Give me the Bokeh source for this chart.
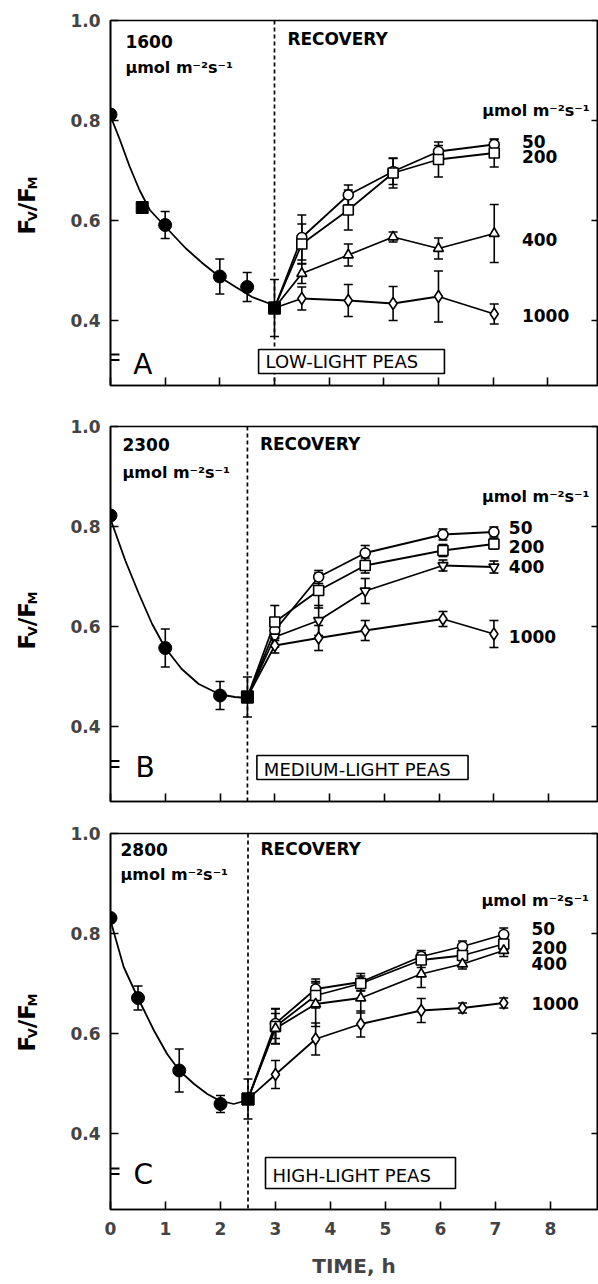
from bokeh.plotting import figure
from bokeh.layouts import column, row
from bokeh.models import (Range1d, LinearAxis, FixedTicker, Span, Label,
                          BoxAnnotation, Whisker, ColumnDataSource, TeeHead,
                          NumeralTickFormatter)
from bokeh.embed import file_html
from bokeh.resources import INLINE

FONT = "DejaVu Sans"

# ---------------- data ----------------
x_ticks = [0, 1, 2, 3, 4, 5, 6, 7, 8]
y_ticks = [0.4, 0.6, 0.8, 1.0]
rec_names = ["50", "200", "400", "1000"]

# Panel A - low-light peas, 1600 umol m-2 s-1
a_stress_t = [0.0, 0.58, 1.0, 2.0, 2.5, 3.0]
a_stress_v = [0.812, 0.626, 0.591, 0.488, 0.467, 0.425]
a_stress_e = [0.0, 0.0, 0.027, 0.035, 0.029, 0.057]
a_stress_m = ["circle", "square", "circle", "circle", "circle", "square"]
a_fit_t = [0.0, 0.17, 0.35, 0.53, 0.72, 1.0, 1.38, 1.69, 2.0, 2.29, 2.59, 3.0]
a_fit_v = [0.809, 0.762, 0.708, 0.661, 0.621, 0.588, 0.544, 0.514, 0.487, 0.467, 0.447, 0.430]
a_end = 3.0
a_rec_t = [3.0, 3.5, 4.35, 5.17, 6.0, 7.02]
a_50 = [0.425, 0.566, 0.651, 0.698, 0.738, 0.752]
a_50e = [0.0, 0.045, 0.02, 0.026, 0.012, 0.01]
a_200 = [0.425, 0.553, 0.621, 0.695, 0.722, 0.735]
a_200e = [0.0, 0.04, 0.04, 0.03, 0.035, 0.028]
a_400 = [0.425, 0.494, 0.531, 0.567, 0.544, 0.574]
a_400e = [0.0, 0.02, 0.022, 0.01, 0.021, 0.058]
a_1000 = [0.425, 0.444, 0.440, 0.434, 0.448, 0.413]
a_1000e = [0.0, 0.023, 0.032, 0.034, 0.051, 0.02]

# Panel B - medium-light peas, 2300 umol m-2 s-1
b_stress_t = [0.0, 1.0, 2.0, 2.5]
b_stress_v = [0.822, 0.557, 0.462, 0.459]
b_stress_e = [0.0, 0.038, 0.028, 0.04]
b_stress_m = ["circle", "circle", "circle", "square"]
b_fit_t = [0.0, 0.27, 0.52, 0.76, 1.0, 1.30, 1.61, 2.0, 2.27, 2.5]
b_fit_v = [0.815, 0.732, 0.665, 0.605, 0.557, 0.515, 0.485, 0.464, 0.459, 0.457]
b_end = 2.5
b_rec_t = [2.5, 3.0, 3.8, 4.65, 6.07, 7.0]
b_50 = [0.459, 0.592, 0.699, 0.747, 0.784, 0.789]
b_50e = [0.0, 0.02, 0.013, 0.015, 0.011, 0.01]
b_200 = [0.459, 0.609, 0.672, 0.722, 0.752, 0.765]
b_200e = [0.0, 0.033, 0.035, 0.015, 0.012, 0.01]
b_400 = [0.459, 0.579, 0.612, 0.671, 0.722, 0.719]
b_400e = [0.0, 0.02, 0.03, 0.025, 0.011, 0.012]
b_1000 = [0.459, 0.562, 0.577, 0.592, 0.615, 0.585]
b_1000e = [0.0, 0.015, 0.025, 0.02, 0.015, 0.027]

# Panel C - high-light peas, 2800 umol m-2 s-1
c_stress_t = [0.0, 0.5, 1.25, 2.0, 2.5]
c_stress_v = [0.831, 0.671, 0.526, 0.459, 0.469]
c_stress_e = [0.0, 0.024, 0.043, 0.017, 0.04]
c_stress_m = ["circle", "circle", "circle", "circle", "square"]
c_fit_t = [0.0, 0.24, 0.5, 0.79, 1.03, 1.25, 1.52, 1.76, 1.98, 2.24, 2.5]
c_fit_v = [0.826, 0.733, 0.671, 0.606, 0.559, 0.526, 0.499, 0.479, 0.466, 0.459, 0.467]
c_end = 2.5
c_rec_t = [2.5, 3.0, 3.73, 4.55, 5.65, 6.4, 7.15]
c_50 = [0.469, 0.620, 0.689, 0.703, 0.754, 0.774, 0.798]
c_50e = [0.0, 0.03, 0.02, 0.017, 0.012, 0.011, 0.013]
c_200 = [0.469, 0.614, 0.676, 0.700, 0.747, 0.756, 0.779]
c_200e = [0.0, 0.035, 0.025, 0.015, 0.015, 0.01, 0.012]
c_400 = [0.469, 0.610, 0.659, 0.671, 0.719, 0.739, 0.766]
c_400e = [0.0, 0.03, 0.045, 0.03, 0.027, 0.01, 0.012]
c_1000 = [0.469, 0.518, 0.589, 0.619, 0.646, 0.651, 0.661]
c_1000e = [0.0, 0.028, 0.032, 0.026, 0.024, 0.01, 0.01]

# ---------------- layout ----------------
PAGE_W, PAGE_H = 598, 1284
STRIP_W = 50          # left strip holding the rotated y titles
PX_H = 55.0           # pixels per hour
FRAME_RIGHT = 597     # page x of right frame edge
BASE_SHIFT = 0.38     # correction of the label anchor, in em


def add_text(p, cfg, X, Y, text, size, style="bold", align="left",
             baseline="alphabetic", angle=0.0):
    Y = Y - BASE_SHIFT * size
    x = (X - cfg["fl"]) / PX_H
    y = 1.0 - (Y - cfg["ft"]) / cfg["pxy"]
    p.add_layout(Label(x=x, y=y, text=text, text_font=FONT,
                       text_font_size=f"{size}px", text_font_style=style,
                       text_align=align, text_baseline=baseline, angle=angle,
                       text_color="black"))


def to_data(cfg, X, Y):
    return (X - cfg["fl"]) / PX_H, 1.0 - (Y - cfg["ft"]) / cfg["pxy"]


def whisker(p, t, v, e, size=9):
    tt = [a for a, b in zip(t, e) if b > 0]
    up = [a + b for a, b in zip(v, e) if b > 0]
    lo = [a - b for a, b in zip(v, e) if b > 0]
    src = ColumnDataSource(dict(t=tt, up=up, lo=lo))
    p.add_layout(Whisker(source=src, base="t", upper="up", lower="lo",
                         line_color="black", line_width=1.6,
                         upper_head=TeeHead(size=size, line_color="black", line_width=1.6),
                         lower_head=TeeHead(size=size, line_color="black", line_width=1.6)))


def hide_labels(ax):
    ax.major_label_text_color = None
    ax.major_label_text_font_size = "1px"
    ax.major_label_standoff = 0


def make_panel(cfg, st, sv, se, sm, ft, fv, split, rt, series, rec_markers):
    fw = FRAME_RIGHT - cfg["fl"]
    x_hi = fw / PX_H
    height = cfg["bt"] + cfg["fh"] + cfg["bb"]
    cfg["ft"] = cfg["top"] + cfg["bt"]
    cfg["pxy"] = cfg["fh"] / (1.0 - cfg["ylo"])
    p = figure(width=PAGE_W - STRIP_W, height=height, x_range=Range1d(0, x_hi),
               y_range=Range1d(cfg["ylo"], 1.0), output_backend="svg",
               toolbar_location=None, min_border_left=cfg["fl"] - STRIP_W,
               min_border_right=PAGE_W - FRAME_RIGHT, min_border_top=cfg["bt"],
               min_border_bottom=cfg["bb"])
    p.grid.visible = False
    p.outline_line_color = "black"
    p.outline_line_width = 1.6
    p.background_fill_color = "white"
    p.border_fill_color = "white"

    # axes
    xa = p.xaxis[0]
    xa.ticker = FixedTicker(ticks=x_ticks)
    xa.major_tick_in = 8
    xa.major_tick_out = 0
    xa.minor_tick_line_color = None
    xa.axis_line_width = 1.6
    xa.major_tick_line_width = 1.6
    if cfg["xlabels"]:
        xa.major_label_text_font = FONT
        xa.major_label_text_font_size = "17px"
        xa.major_label_text_font_style = "bold"
        xa.major_label_standoff = 12
        xa.axis_label = "TIME, h"
        xa.axis_label_text_font = FONT
        xa.axis_label_text_font_size = "20px"
        xa.axis_label_text_font_style = "bold"
        xa.axis_label_standoff = 16
    else:
        hide_labels(xa)

    ya = p.yaxis[0]
    ya.ticker = FixedTicker(ticks=y_ticks)
    ya.formatter = NumeralTickFormatter(format="0.0")
    ya.major_tick_in = 8
    ya.major_tick_out = 0
    ya.minor_tick_line_color = None
    ya.axis_line_width = 1.6
    ya.major_tick_line_width = 1.6
    ya.major_label_text_font = FONT
    ya.major_label_text_font_size = "17px"
    ya.major_label_text_font_style = "bold"
    ya.major_label_standoff = 10

    ra = LinearAxis(ticker=FixedTicker(ticks=y_ticks), major_tick_in=6,
                    major_tick_out=0, minor_tick_line_color=None,
                    axis_line_width=1.6, major_tick_line_width=1.6)
    hide_labels(ra)
    p.add_layout(ra, "right")

    # dashed separator between stress and recovery
    p.add_layout(Span(location=split, dimension="height", line_color="black",
                      line_width=1.7, line_dash="4 3"))

    # stress curve and points
    p.line(ft, fv, line_color="black", line_width=1.8)
    whisker(p, st, sv, se)
    for mk, sz in (("circle", 13), ("square", 12)):
        xs = [a for a, m in zip(st, sm) if m == mk]
        ys = [b for b, m in zip(sv, sm) if m == mk]
        p.scatter(xs, ys, marker=mk, size=sz, fill_color="black", line_color="black")

    # recovery series
    for vals, errs in series:
        p.line(rt, vals, line_color="black", line_width=1.8)
    for vals, errs in series:
        whisker(p, rt[1:], vals[1:], errs[1:])
    for (vals, errs), mk in zip(series, rec_markers):
        sz = 12 if mk == "diamond" else 10
        p.scatter(rt[1:], vals[1:], marker=mk, size=sz, fill_color="white",
                  line_color="black", line_width=1.6)
    p.scatter([st[-1]], [sv[-1]], marker="square", size=12,
              fill_color="black", line_color="black")

    # axis break marks on the left axis
    for Yb in cfg["breaks"]:
        x0, y0 = to_data(cfg, cfg["fl"] - 8, Yb - 0.9)
        x1, y1 = to_data(cfg, cfg["fl"] + 9, Yb + 0.9)
        p.add_layout(BoxAnnotation(left=x0, right=x1, bottom=y1, top=y0,
                                   fill_color="black", fill_alpha=1.0,
                                   line_color=None))

    # labelled box
    bx0, by0 = to_data(cfg, cfg["box"][0], cfg["box"][1])
    bx1, by1 = to_data(cfg, cfg["box"][2], cfg["box"][3])
    p.add_layout(BoxAnnotation(left=bx0, right=bx1, top=by0, bottom=by1,
                               fill_color="white", fill_alpha=1.0,
                               line_color="black", line_alpha=1.0, line_width=1.6))
    return p


cfgA = dict(top=0, bt=20, fh=365, bb=21, fl=107, ylo=0.27, xlabels=False,
            breaks=[354, 359.5], box=(256, 349, 443, 373))
cfgB = dict(top=406, bt=20, fh=375, bb=15, fl=108, ylo=0.25, xlabels=False,
            breaks=[760.5, 766.5], box=(255, 755, 467, 779))
cfgC = dict(top=816, bt=17, fh=376, bb=75, fl=110, ylo=0.248, xlabels=True,
            breaks=[1168, 1173.5], box=(265, 1157, 455, 1188))

pA = make_panel(cfgA, a_stress_t, a_stress_v, a_stress_e, a_stress_m, a_fit_t, a_fit_v,
                a_end, a_rec_t,
                [(a_50, a_50e), (a_200, a_200e), (a_400, a_400e), (a_1000, a_1000e)],
                ["circle", "square", "triangle", "diamond"])
pB = make_panel(cfgB, b_stress_t, b_stress_v, b_stress_e, b_stress_m, b_fit_t, b_fit_v,
                b_end, b_rec_t,
                [(b_50, b_50e), (b_200, b_200e), (b_400, b_400e), (b_1000, b_1000e)],
                ["circle", "square", "inverted_triangle", "diamond"])
pC = make_panel(cfgC, c_stress_t, c_stress_v, c_stress_e, c_stress_m, c_fit_t, c_fit_v,
                c_end, c_rec_t,
                [(c_50, c_50e), (c_200, c_200e), (c_400, c_400e), (c_1000, c_1000e)],
                ["circle", "square", "triangle", "diamond"])

UNIT = "\u00b5mol m\u207b\u00b2s\u207b\u00b9"

texts = [
    (pA, cfgA, "1600", 122, 47, 73, 285, 45, "A", 130, 375, "LOW-LIGHT PEAS", 263, 368,
     116, 521, [147, 162, 245, 321]),
    (pB, cfgB, "2300", 120, 450, 478, 258, 450, "B", 133, 778, "MEDIUM-LIGHT PEAS", 262, 776,
     502, 508, [533, 552, 572, 642]),
    (pC, cfgC, "2800", 120, 855, 880, 260, 855, "C", 133, 1185, "HIGH-LIGHT PEAS", 272, 1182,
     906, 531, [934, 953, 969, 1009]),
]
for (p, cfg, inten, lx, b1, b2, rx, rb, letter, ltx, lty, boxtxt, btx, bty,
     ub, nx, nys) in texts:
    add_text(p, cfg, lx, b1, inten, 17)
    add_text(p, cfg, lx, b2, UNIT, 16)
    add_text(p, cfg, rx, rb, "RECOVERY", 17)
    add_text(p, cfg, ltx, lty, letter, 28, style="normal")
    add_text(p, cfg, btx, bty, boxtxt, 18, style="normal")
    add_text(p, cfg, 481, ub, UNIT, 16)
    for name, Y in zip(rec_names, nys):
        add_text(p, cfg, nx, Y, name, 17)

# ---- left strip with the rotated y-axis titles  F_V / F_M ----
strip = figure(width=STRIP_W, height=PAGE_H, x_range=Range1d(0, STRIP_W),
               y_range=Range1d(0, PAGE_H), output_backend="svg",
               toolbar_location=None, x_axis_type=None, y_axis_type=None,
               min_border=0, min_border_left=0, min_border_right=0,
               min_border_top=0, min_border_bottom=0)
strip.grid.visible = False
strip.outline_line_color = None
strip.background_fill_color = "white"
strip.border_fill_color = "white"

title_centres = [205, 620, 1022]
pieces = [("F", 23, 0, 13.2), ("V", 13, 2, 10.1), ("/", 23, 0, 8.4),
          ("F", 23, 0, 13.2), ("M", 13, 2, 12.9)]
for yc in title_centres:
    Ypos = yc + 29
    for txt, sz, off, w in pieces:
        strip.add_layout(Label(x=35 + off - BASE_SHIFT * sz, y=PAGE_H - Ypos, text=txt,
                               text_font=FONT, text_font_size=f"{sz}px",
                               text_font_style="bold", text_align="left",
                               text_baseline="alphabetic", angle=1.5707963,
                               text_color="black"))
        Ypos -= w

layout = row(strip, column(pA, pB, pC, spacing=0), spacing=0)
open("out.html", "w").write(file_html(layout, INLINE, "Fv/Fm recovery"))
